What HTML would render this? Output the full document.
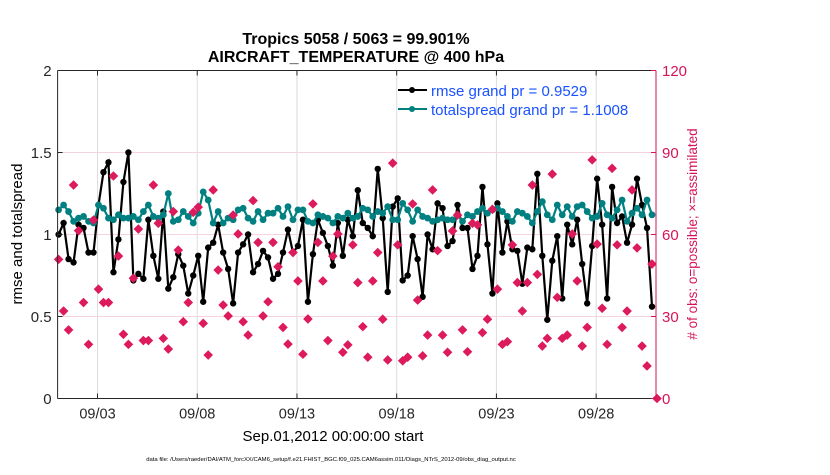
<!DOCTYPE html>
<html><head><meta charset="utf-8">
<style>
html,body{margin:0;padding:0;background:#fff;}
svg text{font-family:"Liberation Sans",Arial,sans-serif;}
</style></head>
<body>
<svg id="chart" width="830" height="470" viewBox="0 0 830 470" xmlns="http://www.w3.org/2000/svg">
<rect x="0" y="0" width="830" height="470" fill="#fff"/>
<text x="356" y="44" text-anchor="middle" font-size="16" font-weight="bold" fill="#000">Tropics 5058 / 5063 = 99.901%</text>
<text x="356" y="62" text-anchor="middle" font-size="16" font-weight="bold" fill="#000">AIRCRAFT_TEMPERATURE @ 400 hPa</text>
<g id="grid"></g>
<g id="marks"></g>
<g id="axes"></g>
<g>
  <line x1="398" y1="90" x2="427" y2="90" stroke="#000" stroke-width="2"/>
  <circle cx="412" cy="90" r="3" fill="#000"/>
  <text x="431" y="96" font-size="15" fill="#1a52ff">rmse grand pr = 0.9529</text>
  <line x1="398" y1="109" x2="427" y2="109" stroke="#008080" stroke-width="2"/>
  <circle cx="412" cy="109" r="3" fill="#008080"/>
  <text x="431" y="115" font-size="15" fill="#1a52ff">totalspread grand pr = 1.1008</text>
</g>
<text transform="translate(22,234) rotate(-90)" text-anchor="middle" font-size="15" fill="#000">rmse and totalspread</text>
<text transform="translate(697,234) rotate(-90)" text-anchor="middle" font-size="13.5" fill="#d6135a">
# of obs: o=possible; ×=assimilated</text>
<text x="333" y="441" text-anchor="middle" font-size="15" fill="#000">Sep.01,2012 00:00:00 start</text>
<text x="331" y="461" text-anchor="middle" font-size="5.9" fill="#000">data file: /Users/raeder/DAI/ATM_forcXX/CAM6_setup/f.e21.FHIST_BGC.f09_025.CAM6assim.011/Diags_NTrS_2012-09/obs_diag_output.nc</text>
</svg>
<script>
const rmse = [1.00,1.07,0.85,0.83,1.06,1.04,0.89,0.89,1.18,1.38,1.44,0.77,0.97,1.32,1.50,0.72,0.76,0.73,1.09,0.87,0.73,1.14,0.67,0.74,0.88,0.81,0.64,0.75,0.87,0.59,
0.92,0.95,1.06,0.89,0.79,0.58,0.89,0.94,1.00,0.77,0.82,0.90,0.86,0.73,0.76,0.89,1.03,0.89,0.93,1.09,0.59,0.88,1.09,1.01,0.93,0.81,1.07,0.87,1.09,
0.99,1.27,1.07,1.04,0.99,1.40,1.10,0.65,1.17,1.22,0.72,0.75,0.99,0.85,0.62,1.00,0.91,1.19,1.16,0.93,0.96,1.18,1.04,1.04,0.79,0.87,1.29,0.94,0.64,
1.19,0.89,1.08,0.91,0.90,0.70,0.92,0.91,1.37,0.87,0.48,0.84,0.99,0.61,1.06,0.94,1.09,0.82,0.58,0.93,1.34,1.06,0.61,1.29,1.07,1.11,0.95,1.06,1.34,1.18,1.04,0.56];
const spread = [1.15,1.18,1.14,1.08,1.10,1.11,1.08,1.07,1.18,1.16,1.10,1.09,1.12,1.10,1.10,1.11,1.09,1.14,1.18,1.11,1.10,1.12,1.25,1.08,1.09,1.14,1.11,1.07,1.13,1.26,
1.21,1.07,1.14,1.07,1.10,1.09,1.15,1.16,1.10,1.08,1.14,1.09,1.13,1.13,1.16,1.11,1.17,1.09,1.15,1.15,1.08,1.07,1.12,1.11,1.10,1.07,1.11,1.10,1.13,
1.10,1.11,1.16,1.15,1.11,1.14,1.13,1.17,1.09,1.09,1.19,1.15,1.08,1.15,1.11,1.10,1.08,1.09,1.10,1.09,1.09,1.12,1.08,1.12,1.11,1.14,1.16,1.13,1.15,
1.16,1.14,1.11,1.08,1.14,1.13,1.11,1.07,1.14,1.20,1.12,1.09,1.18,1.12,1.17,1.11,1.17,1.18,1.14,1.10,1.11,1.19,1.12,1.10,1.15,1.21,1.08,1.13,1.16,1.12,1.21,1.12];
const nobs = [50.9,32.0,25.1,78.1,61.4,35.1,19.8,65.3,40.0,35.1,35.1,81.4,52.1,23.5,19.8,44.0,62.0,21.2,21.2,78.1,64.1,22.0,18.1,68.4,54.3,28.1,35.1,68.1,70.0,27.5,
15.9,76.3,47.0,34.2,30.2,67.1,60.2,28.1,23.2,72.4,57.1,30.2,35.4,57.1,48.2,26.0,19.9,53.4,43.0,16.2,29.1,71.2,57.1,43.0,21.2,52.1,60.2,16.9,19.6,
56.2,42.4,26.3,15.1,43.0,53.4,29.0,14.1,86.1,56.2,13.8,15.1,71.2,36.0,15.6,23.2,76.3,54.1,23.2,16.9,61.3,67.1,25.1,17.1,64.1,63.5,24.1,29.0,69.2,
40.0,19.8,20.8,56.2,42.4,32.0,42.4,78.1,45.4,19.2,22.0,82.1,37.0,22.0,23.2,60.2,43.0,19.2,26.0,87.3,56.5,33.0,19.8,84.2,56.2,26.0,32.0,76.3,55.1,19.2,11.9,49.2,0];
const xTickDays = [2,7,12,17,22,27];
const xTickLabels = ["09/03","09/08","09/13","09/18","09/23","09/28"];
const yTicks = [0,0.5,1,1.5,2];
const yTickLabels = ["0","0.5","1","1.5","2"];
const y2Ticks = [0,30,60,90,120];

const X0=57.6, X1=656, Y0=398.5, Y1=70.5, DAYS=30;
const NS="http://www.w3.org/2000/svg";
function xs(d){return X0+(X1-X0)*d/DAYS;}
function ys(v){return Y0-(Y0-Y1)*v/2;}
function y2s(c){return Y0-(Y0-Y1)*c/120;}
function tOf(i){return 0.25*i+0.05;}
function mk(tag,attrs,parent){const e=document.createElementNS(NS,tag);for(const k in attrs)e.setAttribute(k,attrs[k]);parent.appendChild(e);return e;}
const grid=document.getElementById('grid'), marks=document.getElementById('marks'), axes=document.getElementById('axes');

xTickDays.forEach(d=>{const l=mk('line',{x1:xs(d),x2:xs(d),y1:Y1,y2:Y0,stroke:'#dcdcdc','stroke-width':1},grid);

});
y2Ticks.slice(1,4).forEach(c=>{const l=mk('line',{x1:X0,x2:X1,y1:y2s(c),y2:y2s(c),stroke:'#f7d3e0','stroke-width':1},grid);

});

const rp=rmse.map((v,i)=>xs(tOf(i))+','+ys(v)).join(' ');
const rl=mk('polyline',{points:rp,fill:'none',stroke:'#000','stroke-width':2.2},marks);


rmse.forEach((v,i)=>{const c=mk('circle',{cx:xs(tOf(i)),cy:ys(v),r:3.2,fill:'#000'},marks);

});
const sp=spread.map((v,i)=>xs(tOf(i))+','+ys(v)).join(' ');
const sl=mk('polyline',{points:sp,fill:'none',stroke:'#008080','stroke-width':2.2},marks);


spread.forEach((v,i)=>{const c=mk('circle',{cx:xs(tOf(i)),cy:ys(v),r:3.4,fill:'#008080'},marks);

});
nobs.forEach((c,i)=>{const x=xs(tOf(i)),y=y2s(c);
const g=mk('g',{},marks);


mk('circle',{cx:x,cy:y,r:3.2,fill:'#dc1a5c'},g);
mk('polygon',{points:`${x},${y-4.8} ${x+4.8},${y} ${x},${y+4.8} ${x-4.8},${y}`,fill:'#dc1a5c'},g);});

mk('line',{x1:X0,x2:X1,y1:Y0,y2:Y0,stroke:'#262626','stroke-width':1},axes);
mk('line',{x1:X0,x2:X1,y1:Y1,y2:Y1,stroke:'#262626','stroke-width':1},axes);
mk('line',{x1:X0,x2:X0,y1:Y1,y2:Y0,stroke:'#262626','stroke-width':1},axes);
mk('line',{x1:X1,x2:X1,y1:Y1,y2:Y0,stroke:'#d6135a','stroke-width':1},axes);
xTickDays.forEach((d,i)=>{
mk('line',{x1:xs(d),x2:xs(d),y1:Y0,y2:Y0-5,stroke:'#262626'},axes);
mk('line',{x1:xs(d),x2:xs(d),y1:Y1,y2:Y1+5,stroke:'#262626'},axes);
const t=mk('text',{x:xs(d),y:Y0+20,'text-anchor':'middle','font-size':14.5,fill:'#262626'},axes);
t.textContent=xTickLabels[i];

});
yTicks.forEach((v,i)=>{
mk('line',{x1:X0,x2:X0+5,y1:ys(v),y2:ys(v),stroke:'#262626'},axes);
const t=mk('text',{x:X0-6,y:ys(v)+5.5,'text-anchor':'end','font-size':15,fill:'#262626'},axes);
t.textContent=yTickLabels[i];

});
y2Ticks.forEach(c=>{
mk('line',{x1:X1,x2:X1-5,y1:y2s(c),y2:y2s(c),stroke:'#d6135a'},axes);
const t=mk('text',{x:X1+6,y:y2s(c)+5.5,'font-size':15,fill:'#d6135a'},axes);
t.textContent=String(c);

});
</script>
</body></html>
